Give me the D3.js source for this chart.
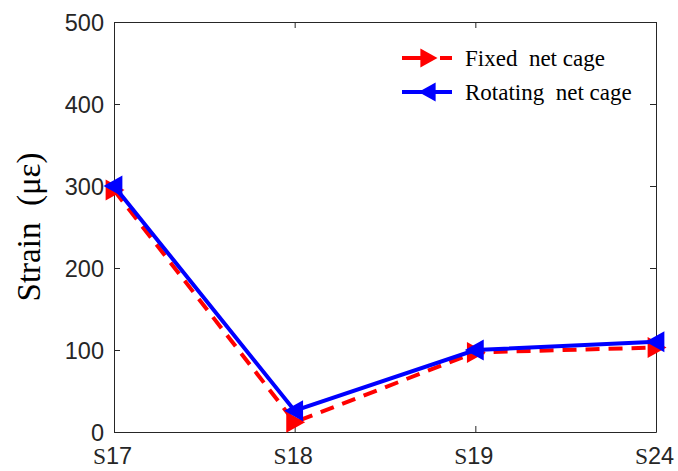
<!DOCTYPE html>
<html>
<head>
<meta charset="utf-8">
<script src="https://cdn.jsdelivr.net/npm/d3@7/dist/d3.min.js"></script>
<style>
  body { margin: 0; background: #fff; }
  svg { display: block; }
</style>
</head>
<body>
<svg id="chart" width="678" height="471"></svg>
<script>
// Sensor positions and measured strain values
const sensors = ["S17", "S18", "S19", "S24"];
const fixedCage = [295, 12, 97, 103];
const rotatingCage = [300, 26, 100, 110];
const yTicks = [0, 100, 200, 300, 400, 500];
const seriesNames = ["Fixed net cage", "Rotating net cage"];

const svg = d3.select("#chart");
const margin = { left: 114, right: 22, top: 22, bottom: 39 };
const W = 678, H = 471;
const x0 = margin.left, x1 = W - margin.right, y0 = H - margin.bottom, y1 = margin.top;

const x = d3.scalePoint().domain(sensors).range([x0, x1]);
const y = d3.scaleLinear().domain([0, 500]).range([y0, y1]);

// Axes with inward ticks
const gx = svg.append("g").attr("transform", `translate(0,${y0})`)
  .call(d3.axisBottom(x).tickSize(-6).tickSizeOuter(0).tickPadding(17));
const gy = svg.append("g").attr("transform", `translate(${x0},0)`)
  .call(d3.axisLeft(y).tickValues(yTicks).tickSize(-6).tickSizeOuter(0).tickPadding(10));
svg.append("g").attr("transform", `translate(0,${y1})`)
  .call(d3.axisTop(x).tickSize(-6).tickSizeOuter(0).tickFormat(""));
svg.append("g").attr("transform", `translate(${x1},0)`)
  .call(d3.axisRight(y).tickValues(yTicks).tickSize(-6).tickSizeOuter(0).tickFormat(""));

svg.selectAll(".domain, .tick line").attr("stroke", "#262626").attr("stroke-width", 1);

gy.selectAll(".tick text")
  .attr("font-family", "Liberation Sans, Arial, sans-serif")
  .attr("font-size", 23.5).attr("fill", "#262626").attr("dy", "0.36em");

// x labels: serif "S" followed by sans digits
gx.selectAll(".tick text").each(function(d) {
  const t = d3.select(this).text(null)
    .attr("font-size", 23.5).attr("fill", "#262626")
    .attr("dy", "0.62em").attr("dx", -2);
  t.append("tspan").attr("font-family", "Liberation Serif, Times New Roman, serif").text(d.slice(0, 1));
  t.append("tspan").attr("font-family", "Liberation Sans, Arial, sans-serif").text(d.slice(1));
});

// y-axis title
svg.append("text")
  .attr("transform", `translate(40,${(y0 + y1) / 2}) rotate(-90)`)
  .attr("text-anchor", "middle")
  .attr("font-family", "Liberation Serif, Times New Roman, serif")
  .attr("font-size", 33).attr("fill", "#000")
  .attr("xml:space", "preserve")
  .text("Strain  (\u03bc\u03b5)");

const line = d3.line().x((d, i) => x(sensors[i])).y(d => y(d));

// triangle markers; dir 1 = right-pointing, -1 = left-pointing
function tri(dir, r) {
  return `M${dir * r},0 L${-dir * r * 0.8},${-r} L${-dir * r * 0.8},${r} Z`;
}

const series = [
  { name: seriesNames[0], values: fixedCage, color: "#ff0000", dash: "14,9", dir: 1 },
  { name: seriesNames[1], values: rotatingCage, color: "#0000ff", dash: null, dir: -1 }
];

const plot = svg.append("g");
series.forEach(s => {
  plot.append("path").datum(s.values)
    .attr("d", line)
    .attr("fill", "none").attr("stroke", s.color).attr("stroke-width", 4)
    .attr("stroke-dasharray", s.dash);
  plot.selectAll(null).data(s.values).enter().append("path")
    .attr("transform", (d, i) => `translate(${x(sensors[i])},${y(d)})`)
    .attr("d", tri(s.dir, 10.5))
    .attr("fill", s.color);
});

// legend
const leg = svg.append("g");
series.forEach((s, i) => {
  const ly = 58 + i * 34;
  leg.append("line").attr("x1", 402).attr("x2", 452).attr("y1", ly).attr("y2", ly)
    .attr("stroke", s.color).attr("stroke-width", 4)
    .attr("stroke-dasharray", s.dash ? "24,14" : null);
  leg.append("path").attr("transform", `translate(428,${ly})`)
    .attr("d", tri(s.dir, 9.5)).attr("fill", s.color);
  leg.append("text").attr("x", 465).attr("y", ly + 8)
    .attr("font-family", "Liberation Serif, Times New Roman, serif")
    .attr("font-size", 23).attr("fill", "#000")
    .attr("xml:space", "preserve")
    .text(s.name.replace(" net", "  net"));
});
</script>
</body>
</html>
